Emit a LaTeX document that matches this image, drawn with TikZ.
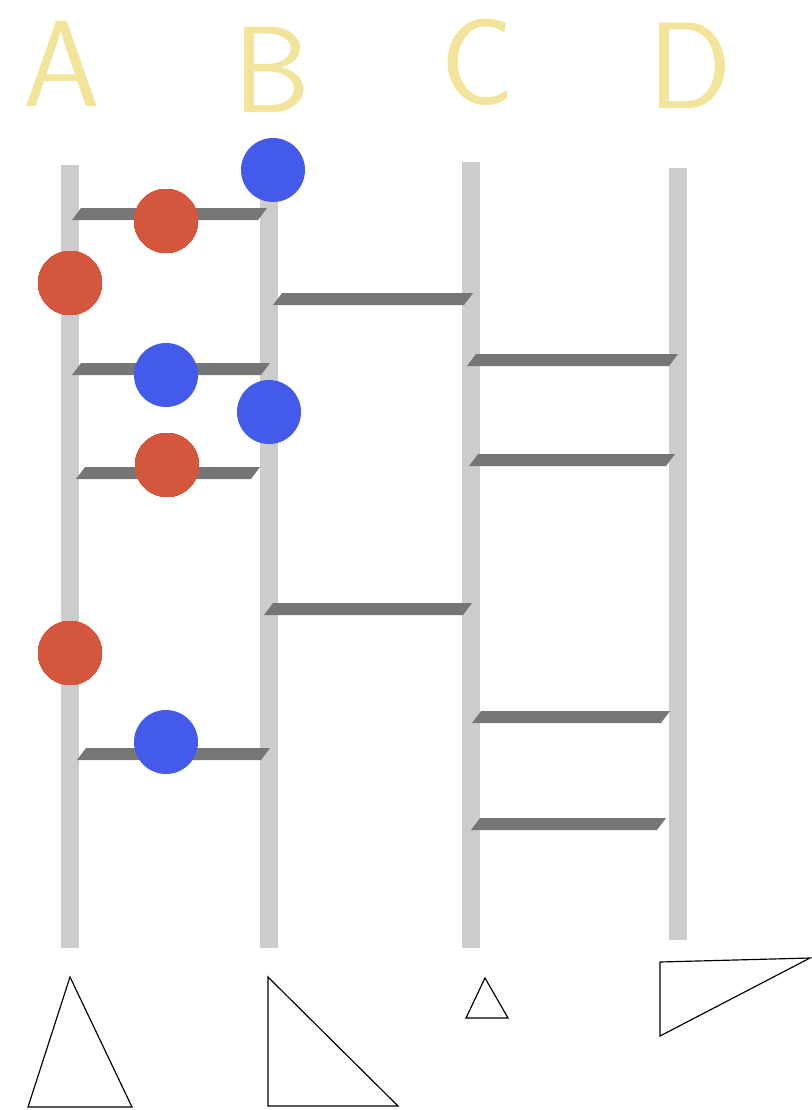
\documentclass[tikz,border=0pt]{standalone}
\usepackage{tikz}
\usetikzlibrary{positioning}
\definecolor{postgray}{RGB}{204,204,204}
\definecolor{runggray}{RGB}{118,118,118}
\definecolor{beadred}{RGB}{212,86,60}
\definecolor{beadblue}{RGB}{68,90,234}
\definecolor{letteryellow}{RGB}{243,228,155}
\newcommand{\rungbar}[3]{\fill[rung] (#1,#3+6) -- (#1+9,#3-6) -- (#2,#3-6) -- (#2-9,#3+6) -- cycle;}

\begin{document}
\begin{tikzpicture}[x=0.03cm,y=-0.03cm,
  post/.style={fill=postgray},
  rung/.style={fill=runggray},
  redbead/.style={fill=beadred},
  bluebead/.style={fill=beadblue},
  letter/.style={text=letteryellow, inner sep=0pt, font=\sffamily\fontsize{105}{105}\selectfont},
  tri/.style={draw=black, line width=1pt, line join=miter}]
\useasboundingbox (0,0) rectangle (812,1110);
% labels
\node[letter] (labA) at (62,64) {A};
\node[letter] (labB) at (272,70) {B};
\node[letter] (labC) at (477,62) {C};
\node[letter] (labD) at (690,66) {D};
% posts
\foreach \x/\top/\bot in {70/165/948, 269/185/948, 471/162/948, 678/168/940}
  \fill[post] (\x-9,\top) rectangle (\x+9,\bot);
% rungs
\foreach \xa/\xb/\y in {72/267/214, 72/270/369, 76/260/473, 77/270/754,
                        273/473/299, 264/472/609,
                        467/678/360, 469/675/460, 472/670/717, 471/666/824}
  \rungbar{\xa}{\xb}{\y}
% beads
\foreach \x/\y in {166/221, 70/283, 167/465, 70/653}
  \fill[redbead] (\x,\y) circle (32);
\foreach \x/\y in {273/170, 166/375, 269/412, 166/742}
  \fill[bluebead] (\x,\y) circle (32);
% triangles
\draw[tri] (70,977) -- (132,1107) -- (28,1107) -- cycle;
\draw[tri] (268,977) -- (398,1106) -- (268,1106) -- cycle;
\draw[tri] (485,978) -- (508,1018) -- (466,1018) -- cycle;
\draw[tri] (660,962) -- (810,958) -- (660,1036) -- cycle;
\end{tikzpicture}
\end{document}
